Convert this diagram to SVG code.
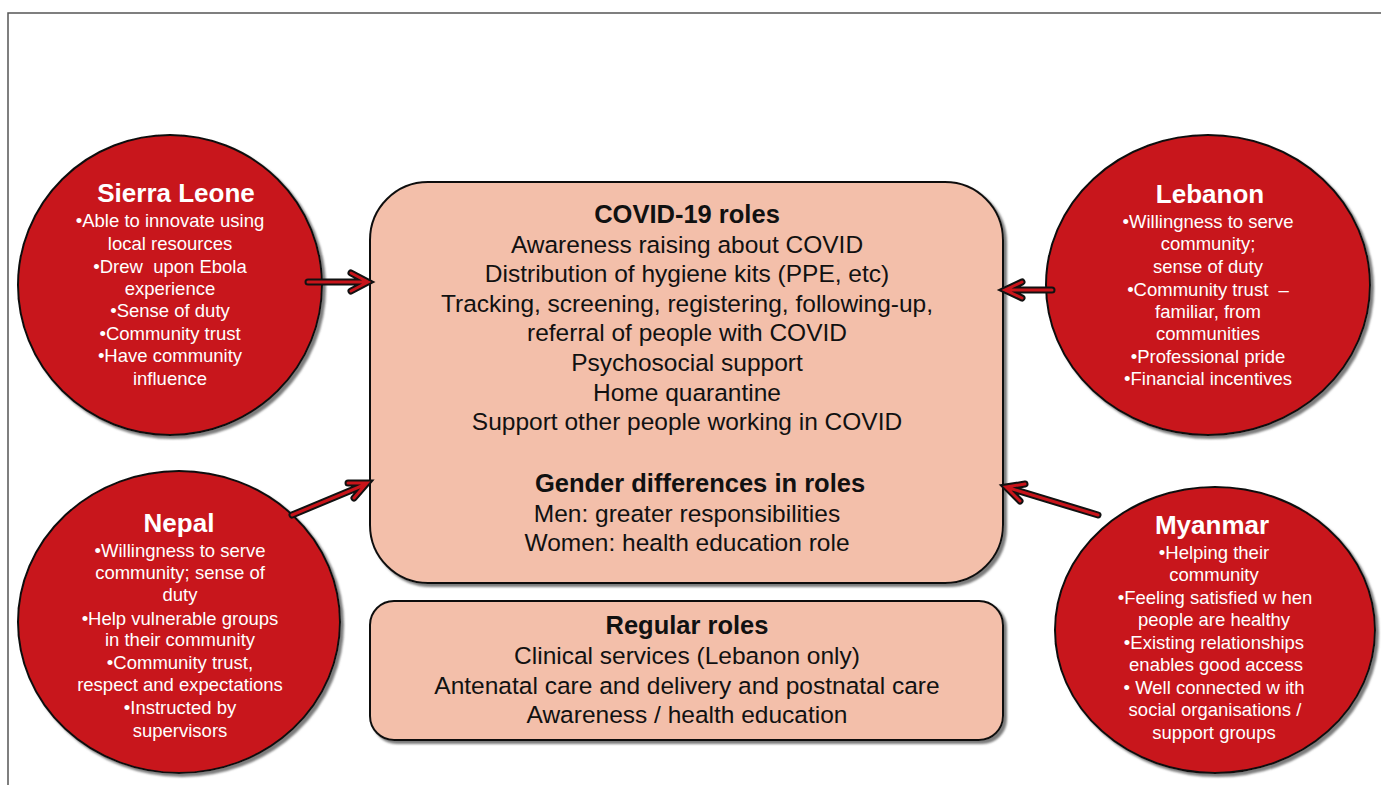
<svg xmlns="http://www.w3.org/2000/svg" width="1381" height="785" viewBox="0 0 1381 785">
  <defs>
    <filter id="shadow" x="-10%" y="-10%" width="125%" height="125%">
      <feDropShadow dx="3" dy="3" stdDeviation="1.2" flood-color="#6e6e6e" flood-opacity="0.9"/>
    </filter>
    <style>
      .frame { fill: none; stroke: #555; stroke-width: 1.5; }
      .circle { fill: #C8141A; stroke: #111; stroke-width: 2; filter: url(#shadow); }
      .box { fill: #F3BFAA; stroke: #111; stroke-width: 2; filter: url(#shadow); }
      .ctitle { font-family: "Liberation Sans", Arial, sans-serif; font-size: 26px; font-weight: bold; fill: #fff; text-anchor: middle; }
      .cbody { font-family: "Liberation Sans", Arial, sans-serif; font-size: 18.5px; fill: #fff; text-anchor: middle; white-space: pre; }
      .btitle { font-family: "Liberation Sans", Arial, sans-serif; font-size: 25.5px; font-weight: bold; fill: #111; text-anchor: middle; }
      .bbody { font-family: "Liberation Sans", Arial, sans-serif; font-size: 24.5px; fill: #111; text-anchor: middle; }
      .arrow-out { fill: none; stroke: #111; stroke-width: 7; stroke-linejoin: miter; stroke-linecap: round; }
      .arrow-in { fill: none; stroke: #C8141A; stroke-width: 3; stroke-linejoin: miter; stroke-linecap: round; }
    </style>
  </defs>

  <rect width="1381" height="785" fill="#fff"/>
  <!-- outer frame, open to the right and bottom -->
  <path class="frame" d="M8,785 L8,13 L1381,13"/>

  <!-- central role boxes -->
  <g id="covid-roles">
    <rect class="box" x="370" y="182" width="633" height="401" rx="58" ry="58"/>
    <text class="btitle" x="687" y="223">COVID-19 roles</text>
    <text class="bbody" x="687" y="252.5">Awareness raising about COVID</text>
    <text class="bbody" x="687" y="281.5">Distribution of hygiene kits (PPE, etc)</text>
    <text class="bbody" x="687" y="311.5">Tracking, screening, registering, following-up,</text>
    <text class="bbody" x="687" y="340.5">referral of people with COVID</text>
    <text class="bbody" x="687" y="370.5">Psychosocial support</text>
    <text class="bbody" x="687" y="400.5">Home quarantine</text>
    <text class="bbody" x="687" y="429.5">Support other people working in COVID</text>
    <text class="btitle" x="700" y="492">Gender differences in roles</text>
    <text class="bbody" x="687" y="521.5">Men: greater responsibilities</text>
    <text class="bbody" x="687" y="550.5">Women: health education role</text>
  </g>

  <g id="regular-roles">
    <rect class="box" x="370" y="601" width="633" height="139" rx="24" ry="24"/>
    <text class="btitle" x="687" y="634">Regular roles</text>
    <text class="bbody" x="687" y="663.5">Clinical services (Lebanon only)</text>
    <text class="bbody" x="687" y="693.5">Antenatal care and delivery and postnatal care</text>
    <text class="bbody" x="687" y="722.5">Awareness / health education</text>
  </g>

  <!-- country circles -->
  <g id="sierra-leone">
    <ellipse class="circle" cx="170" cy="285" rx="152" ry="150"/>
    <text class="ctitle" x="176" y="202">Sierra Leone</text>
    <text class="cbody" x="170" y="226.5">•Able to innovate using</text>
    <text class="cbody" x="170" y="249.5">local resources</text>
    <text class="cbody" x="170" y="272.5">•Drew&#160; upon Ebola</text>
    <text class="cbody" x="170" y="294.5">experience</text>
    <text class="cbody" x="170" y="316.5">•Sense of duty</text>
    <text class="cbody" x="170" y="339.5">•Community trust</text>
    <text class="cbody" x="170" y="361.5">•Have community</text>
    <text class="cbody" x="170" y="384.5">influence</text>
  </g>

  <g id="lebanon">
    <ellipse class="circle" cx="1208" cy="285" rx="162" ry="150"/>
    <text class="ctitle" x="1210" y="203">Lebanon</text>
    <text class="cbody" x="1208" y="227.5">•Willingness to serve</text>
    <text class="cbody" x="1208" y="249.5">community;</text>
    <text class="cbody" x="1208" y="272.5">sense of duty</text>
    <text class="cbody" x="1208" y="295.5">•Community trust&#160; –</text>
    <text class="cbody" x="1208" y="317.5">familiar, from</text>
    <text class="cbody" x="1208" y="339.5">communities</text>
    <text class="cbody" x="1208" y="362.5">•Professional pride</text>
    <text class="cbody" x="1208" y="384.5">•Financial incentives</text>
  </g>

  <g id="nepal">
    <ellipse class="circle" cx="179" cy="622" rx="161" ry="151"/>
    <text class="ctitle" x="179" y="532">Nepal</text>
    <text class="cbody" x="180" y="556.5">•Willingness to serve</text>
    <text class="cbody" x="180" y="578.5">community; sense of</text>
    <text class="cbody" x="180" y="600.5">duty</text>
    <text class="cbody" x="180" y="624.5">•Help vulnerable groups</text>
    <text class="cbody" x="180" y="645.5">in their community</text>
    <text class="cbody" x="180" y="668.5">•Community trust,</text>
    <text class="cbody" x="180" y="690.5">respect and expectations</text>
    <text class="cbody" x="180" y="713.5">•Instructed by</text>
    <text class="cbody" x="180" y="736.5">supervisors</text>
  </g>

  <g id="myanmar">
    <ellipse class="circle" cx="1215" cy="630" rx="160" ry="143"/>
    <text class="ctitle" x="1212" y="534">Myanmar</text>
    <text class="cbody" x="1214" y="558.5">•Helping their</text>
    <text class="cbody" x="1214" y="580.5">community</text>
    <text class="cbody" x="1215" y="603.5">•Feeling satisfied w hen</text>
    <text class="cbody" x="1214" y="625.5">people are healthy</text>
    <text class="cbody" x="1214" y="648.5">•Existing relationships</text>
    <text class="cbody" x="1216" y="670.5">enables good access</text>
    <text class="cbody" x="1214" y="693.5">• Well connected w ith</text>
    <text class="cbody" x="1215" y="715.5">social organisations /</text>
    <text class="cbody" x="1214" y="738.5">support groups</text>
  </g>

  <!-- connectors: outlined red arrows pointing at the COVID-19 box -->
  <g id="connectors">
    <path class="arrow-out" d="M308,282 L365,282 M351,273 L368,282 L351,291"/>
    <path class="arrow-in" d="M308,282 L365,282 M351,273 L368,282 L351,291"/>

    <path class="arrow-out" d="M292,515 L364,485 M348,483 L367,483 L354,498"/>
    <path class="arrow-in" d="M292,515 L364,485 M348,483 L367,483 L354,498"/>

    <path class="arrow-out" d="M1052,290 L1008,290 M1022,282 L1005,290 L1022,298"/>
    <path class="arrow-in" d="M1052,290 L1008,290 M1022,282 L1005,290 L1022,298"/>

    <path class="arrow-out" d="M1098,515 L1009,488 M1025,484 L1006,487 L1020,501"/>
    <path class="arrow-in" d="M1098,515 L1009,488 M1025,484 L1006,487 L1020,501"/>
  </g>
</svg>
